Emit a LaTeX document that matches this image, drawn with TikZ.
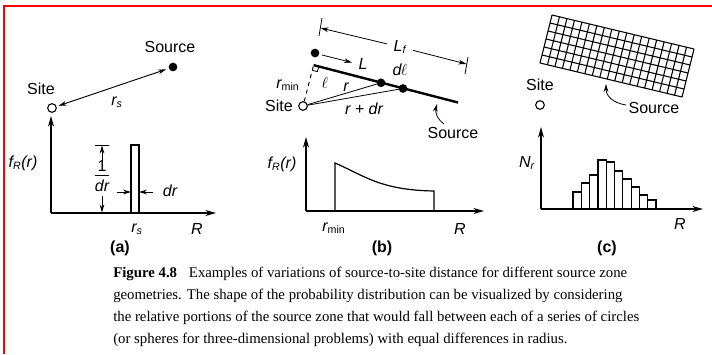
\documentclass[tikz,border=0pt]{standalone}
\usepackage{fontspec}
\setmainfont{Liberation Serif}
\newfontfamily\labfont{Liberation Sans}
\usetikzlibrary{arrows.meta,calc}
\tikzset{
  lbl/.style={font=\labfont\fontsize{12}{14}\selectfont, inner sep=0pt},
  ilbl/.style={font=\labfont\itshape\fontsize{12}{14}\selectfont, inner sep=0pt},
  plbl/.style={font=\labfont\bfseries\fontsize{12}{14}\selectfont, inner sep=0pt},
  axis/.style={line width=1pt, -{Stealth[length=8pt,width=4.5pt]}},
  sitec/.style={circle, draw, line width=0.8pt, fill=white, minimum size=6.5pt, inner sep=0pt},
  srcdot/.style={circle, fill=black, minimum size=6.5pt, inner sep=0pt},
  thinarr/.style={line width=0.6pt, -{Stealth[length=6pt,width=3.5pt]}},
  thin line/.style={line width=0.6pt},
  curve/.style={line width=0.9pt},
  gridl/.style={line width=0.8pt},
  captxt/.style={anchor=base west, inner sep=0pt, font=\fontsize{11.1}{13}\selectfont},
}
\begin{document}
\begin{tikzpicture}[x=0.75pt,y=-0.75pt]
\useasboundingbox (0,0) rectangle (712,354);
\fill[white] (0,0) rectangle (712,354);
\draw[red, line width=1.5pt] (4,354) -- (4,6) -- (712,6);

% ---------------- panel (a)
\node[sitec] (siteA) at (52,108) {};
\node[lbl] (siteAl) at (41,89) {Site};
\node[srcdot] (srcA) at (173,67) {};
\node[lbl] (srcAl) at (170,47) {Source};
\draw[line width=0.7pt, {Stealth[length=6pt,width=3.5pt]}-{Stealth[length=6pt,width=3.5pt]}, shorten <=1.5pt, shorten >=2pt] (siteA) -- (srcA);
\node[ilbl] (rsA) at (117,102) {r\textsubscript{s}};
\coordinate (oA) at (51,213);
\coordinate (yA) at (51,116);
\coordinate (xA) at (216,213);
\draw[axis] (oA) -- (yA);
\draw[axis] (oA) -- (xA);
\node[ilbl] (fA) at (23,163) {f\textsubscript{R}(r)};
\draw[curve] (131,213) rectangle (139,145);
\coordinate (tkA1) at (95,145);
\coordinate (tkA2) at (109,145);
\draw[thin line] (tkA1) -- (tkA2);
\coordinate (upA1) at (102,160);
\coordinate (upA2) at (102,145.5);
\draw[thinarr] (upA1) -- (upA2);
\node[lbl] (oneA) at (102,166) {1};
\coordinate (frA1) at (95,175.5);
\coordinate (frA2) at (109,175.5);
\draw[thin line] (frA1) -- (frA2);
\node[ilbl] (drA) at (102,186) {dr};
\coordinate (dnA1) at (102,196);
\coordinate (dnA2) at (102,212.5);
\draw[thinarr] (dnA1) -- (dnA2);
\coordinate (lwA1) at (117,192);
\coordinate (lwA2) at (131,192);
\coordinate (rwA1) at (153,192);
\coordinate (rwA2) at (139,192);
\draw[thinarr] (lwA1) -- (lwA2);
\draw[thinarr] (rwA1) -- (rwA2);
\node[ilbl] (drA2) at (170,191) {dr};
\node[ilbl] (rsA2) at (137,229) {r\textsubscript{s}};
\node[ilbl] (RA) at (197,229) {R};
\node[plbl] (pa) at (120,248) {(a)};

% ---------------- panel (b)
\coordinate (lnA) at (317,66);
\coordinate (lnB) at (458,102.5);
\node[sitec] (siteB) at (303,106) {};
\node[lbl] (siteBl) at (279,106) {Site};
\coordinate (foot) at ($(lnA)!(siteB.center)!(lnB)$);
\draw[line width=1.8pt] (foot) -- (lnB);
\draw[dashed, line width=0.7pt] (siteB) -- (foot);
\coordinate (ra1) at ($(foot)!4pt!(lnB)$);
\coordinate (ra2) at ($(foot)!4pt!(siteB.center)$);
\draw[thin line] (ra1) -- ($(ra1)+(ra2)-(foot)$) -- (ra2);
\node[srcdot] (topdot) at (315,53) {};
\coordinate (LarA) at (322,55);
\coordinate (LarB) at (352,62.5);
\draw[thinarr] (LarA) -- (LarB);
\node[ilbl] (Llab) at (363,64) {L};
\node[srcdot] (d1) at (381,82.8) {};
\node[srcdot] (d2) at (403,88.5) {};
\draw[thin line] (siteB) -- (d1.center);
\draw[thin line] (siteB) -- (d2.center);
\node[ilbl] (rmin) at (288,85) {r\textsubscript{\upshape min}};
\node[font=\fontsize{12}{14}\selectfont, inner sep=0pt] (ell) at (325,83) {$\ell$};
\node[ilbl] (rB) at (346,87) {r};
\node[ilbl] (rdr) at (364,109) {r + dr};
\node[inner sep=0pt] (dell) at (400,70) {\labfont\itshape\fontsize{12}{14}\selectfont d\kern-0.5pt{\normalfont\fontsize{12}{14}\selectfont$\ell$}};
\coordinate (tl1) at (322,18);
\coordinate (tl2) at (319,36);
\coordinate (tr1) at (468,57);
\coordinate (tr2) at (465,74);
\draw[thin line] (tl1) -- (tl2);
\draw[thin line] (tr1) -- (tr2);
\coordinate (dimL) at (320.5,28);
\coordinate (dimR) at (466.5,64);
\node[ilbl] (Lf) at (400,47) {L\textsubscript{f}};
\draw[thinarr] ($(Lf)!10pt!(dimL)$) -- (dimL);
\draw[thinarr] ($(Lf)!10pt!(dimR)$) -- (dimR);
\node[lbl] (srcBl) at (453,133) {Source};
\coordinate (cbA) at (444,124);
\coordinate (cbB) at (437,104);
\draw[thinarr] (cbA) .. controls (437,119) and (435,112) .. (cbB);
\coordinate (oB) at (306,211);
\coordinate (yB) at (306,137);
\coordinate (xB) at (484,211);
\draw[axis] (oB) -- (yB);
\draw[axis] (oB) -- (xB);
\node[ilbl] (fB) at (282,164) {f\textsubscript{R}(r)};
\draw[curve] (335,211) -- (335,163) .. controls (365,176) and (380,190) .. (434,191) -- (434,211);
\node[ilbl] (rminB) at (334,228) {r\textsubscript{\upshape min}};
\node[ilbl] (RB) at (460,229) {R};
\node[plbl] (pb) at (382,248) {(b)};

% ---------------- panel (c)
\coordinate (g0) at (552,15);
\coordinate (g1) at (694,49);
\coordinate (g2) at (682,97);
\coordinate (g3) at (540,63);
\foreach \i in {0,...,19}
  \draw[gridl] ($(g0)!\i/19!(g1)$) -- ($(g3)!\i/19!(g2)$);
\foreach \j in {0,...,6}
  \draw[gridl] ($(g0)!\j/6!(g3)$) -- ($(g1)!\j/6!(g2)$);
\node[sitec] (siteC) at (540,105) {};
\node[lbl] (siteCl) at (540,85) {Site};
\node[lbl] (srcCl) at (654,108) {Source};
\coordinate (ccA) at (626,105);
\coordinate (ccB) at (606,84);
\draw[thinarr] (ccA) .. controls (613,103) and (606,96) .. (ccB);
\coordinate (oC) at (541,209);
\coordinate (yC) at (541,127);
\coordinate (xC) at (703,209);
\draw[axis] (oC) -- (yC);
\draw[axis] (oC) -- (xC);
\node[ilbl] (NC) at (527,163) {N\textsubscript{r}};
\foreach \h [count=\i from 0] in {192,183,175,160,162,171,179,187,195,200}
  \draw[curve] (573+8.3*\i,209) rectangle (581.3+8.3*\i,\h);
\node[ilbl] (RC) at (680,224) {R};
\node[plbl] (pc) at (607,248) {(c)};

% ---------------- caption
\node[captxt] (cap1) at (113,277) {\textbf{Figure 4.8}\hspace{0.8em}Examples of variations of source-to-site distance for different source zone};
\node[captxt] (cap2) at (113,299) {geometries. The shape of the probability distribution can be visualized by considering};
\node[captxt] (cap3) at (113,321) {the relative portions of the source zone that would fall between each of a series of circles};
\node[captxt] (cap4) at (113,343) {(or spheres for three-dimensional problems) with equal differences in radius.};
\end{tikzpicture}
\end{document}
